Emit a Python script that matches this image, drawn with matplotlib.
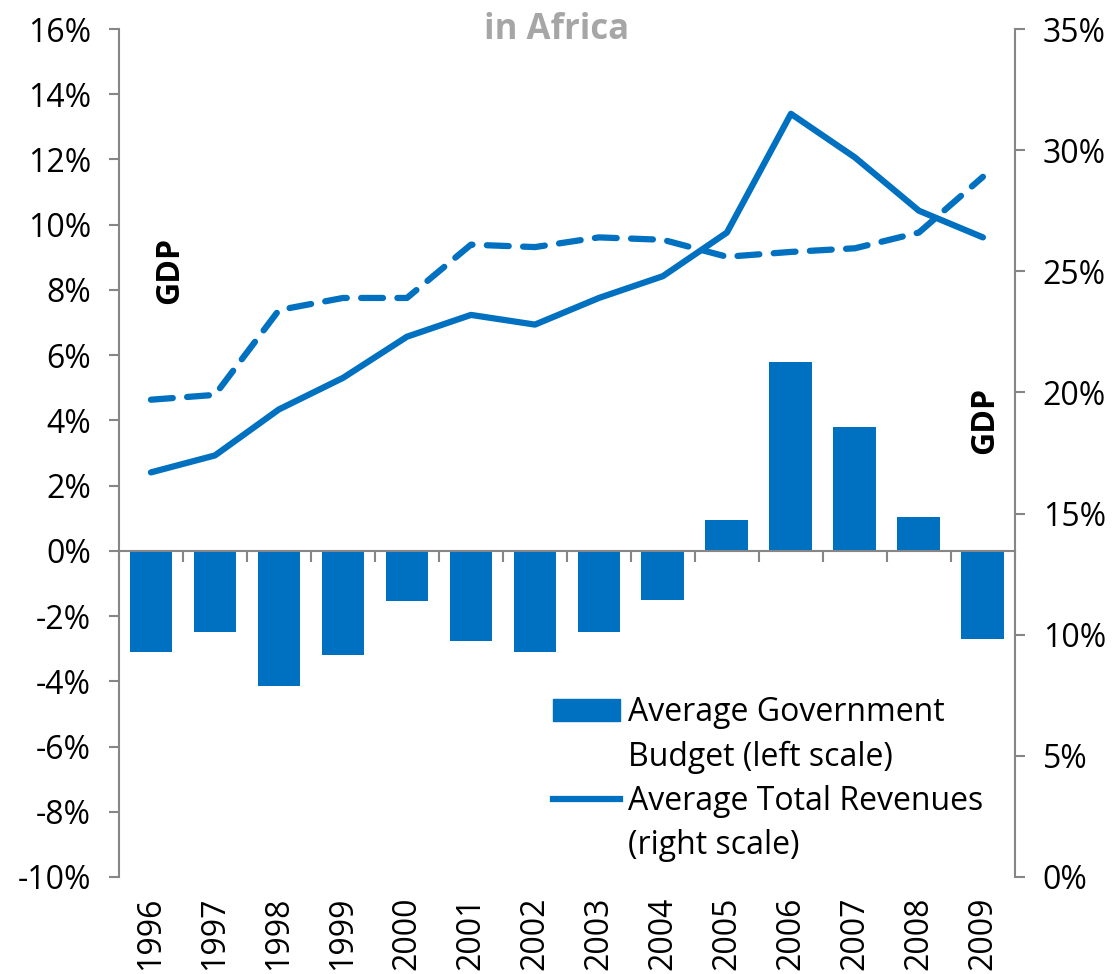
import numpy as np
import matplotlib.pyplot as plt
from matplotlib.ticker import PercentFormatter
from matplotlib.patches import Patch
from matplotlib.lines import Line2D

plt.rcParams['font.family'] = ['Open Sans', 'DejaVu Sans']
plt.rcParams['axes.unicode_minus'] = False

years = ['1996', '1997', '1998', '1999', '2000', '2001', '2002',
         '2003', '2004', '2005', '2006', '2007', '2008', '2009']
# government budget balance, % of GDP (left scale)
budget = [-3.1, -2.5, -4.15, -3.2, -1.55, -2.75, -3.1,
          -2.5, -1.5, 0.95, 5.8, 3.8, 1.05, -2.7]
# total revenues, % of GDP (right scale)
revenues = [16.7, 17.4, 19.3, 20.6, 22.3, 23.2, 22.8,
            23.9, 24.8, 26.6, 31.5, 29.7, 27.5, 26.4]
# total expenditures, % of GDP (right scale)
expenditures = [19.7, 19.9, 23.4, 23.9, 23.9, 26.1, 26.0,
                26.4, 26.3, 25.6, 25.8, 25.95, 26.6, 28.9]

blue = '#0070C0'
grey = '#868686'
fs = 23

fig = plt.figure(figsize=(11.19, 9.74), dpi=100)
ax = fig.add_axes([0.1063, 0.0996, 0.8007, 0.8706])
x = np.arange(len(years))

ax.bar(x, np.array(budget) / 100, width=0.67, color=blue, zorder=2)
ax.set_xlim(-0.5, len(years) - 0.5)
ax.set_ylim(-0.10, 0.16)
ax.set_yticks(np.arange(-0.10, 0.161, 0.02))
ax.yaxis.set_major_formatter(PercentFormatter(1.0, decimals=0))

for s in ['top', 'right']:
    ax.spines[s].set_visible(False)
ax.spines['left'].set_color(grey)
ax.spines['left'].set_linewidth(1.5)
ax.spines['bottom'].set_position(('data', 0))
ax.spines['bottom'].set_color(grey)
ax.spines['bottom'].set_linewidth(1.5)
ax.spines['bottom'].set_zorder(3)

# category boundary ticks on the zero line
ax.set_xticks(np.arange(-0.5, len(years), 1.0))
ax.tick_params(axis='x', direction='out', length=8, width=1.5,
               color=grey, labelbottom=False)
ax.tick_params(axis='y', direction='out', length=7, width=1.5,
               color=grey, labelsize=fs, pad=13)

# year labels along the bottom of the plot area
sec = ax.secondary_xaxis('bottom')
sec.set_xticks(x)
sec.set_xticklabels(years, rotation=90, fontsize=fs)
sec.tick_params(length=0, pad=14)
sec.spines['bottom'].set_visible(False)

ax2 = ax.twinx()
ax2.plot(x, np.array(revenues) / 100, color=blue, lw=4.5,
         solid_capstyle='round', solid_joinstyle='round')
ax2.plot(x, np.array(expenditures) / 100, color=blue, lw=4.5,
         dashes=(3.5, 2.3), dash_capstyle='round', dash_joinstyle='round')
ax2.set_ylim(0, 0.35)
ax2.set_yticks(np.arange(0, 0.351, 0.05))
ax2.yaxis.set_major_formatter(PercentFormatter(1.0, decimals=0))
for s in ['top', 'left', 'bottom']:
    ax2.spines[s].set_visible(False)
ax2.spines['right'].set_color(grey)
ax2.spines['right'].set_linewidth(1.5)
ax2.tick_params(axis='y', direction='out', length=7, width=1.5,
                color=grey, labelsize=fs, pad=13)

fig.text(557 / 1119, 1 - 30 / 974, 'in Africa', color='#A6A6A6',
         fontsize=25, fontweight='bold', ha='center', va='center')
fig.text(170 / 1119, 1 - 270 / 974, 'GDP', rotation=90, fontsize=fs,
         fontweight='bold', ha='center', va='center')
fig.text(985 / 1119, 1 - 420 / 974, 'GDP', rotation=90, fontsize=fs,
         fontweight='bold', ha='center', va='center')

blank = Line2D([], [], color='none')
handles = [Patch(color=blue), blank,
           Line2D([], [], color=blue, lw=4.5), blank]
labels = ['Average Government', 'Budget (left scale)',
          'Average Total Revenues', '(right scale)']
fig.legend(handles, labels, loc='lower left',
           bbox_to_anchor=(553 / 1119, 1 - 862 / 974),
           frameon=False, fontsize=fs, handlelength=2.1,
           handletextpad=0.25, labelspacing=0.35, borderpad=0,
           borderaxespad=0)

fig.savefig('out.png', dpi=100)
